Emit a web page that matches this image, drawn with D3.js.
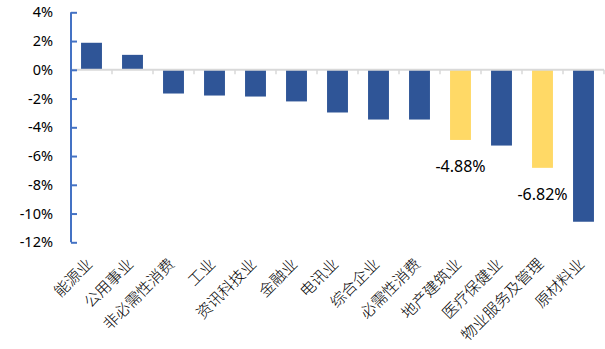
<!DOCTYPE html>
<html>
<head>
<meta charset="utf-8">
<script src="https://cdn.jsdelivr.net/npm/d3@7"></script>
<style>
  html, body { margin: 0; padding: 0; background: #fff; }
  svg text { font-family: "Noto Sans", "Noto Sans CJK SC", sans-serif; fill: #000; }
</style>
</head>
<body>
<svg id="chart" width="605" height="349"></svg>
<script>
// Sector returns (%)
const categories = ["能源业", "公用事业", "非必需性消费", "工业", "资讯科技业", "金融业", "电讯业",
                    "综合企业", "必需性消费", "地产建筑业", "医疗保健业", "物业服务及管理", "原材料业"];
const values = [1.88, 1.04, -1.65, -1.79, -1.86, -2.2, -2.97, -3.46, -3.46, -4.88, -5.27, -6.82, -10.57];
// Sectors highlighted in yellow and labelled with their value
const highlighted = ["地产建筑业", "物业服务及管理"];
const yTicks = [4, 2, 0, -2, -4, -6, -8, -10, -12];

const svg = d3.select("#chart");
const plotLeft = 71, plotRight = 604, plotTop = 12.3, plotBottom = 242.3;

const x = d3.scaleBand().domain(categories).range([plotLeft, plotRight]).paddingInner(0.49).paddingOuter(0.245);
const y = d3.scaleLinear().domain([-12, 4]).range([plotBottom, plotTop]);

// Bars
svg.append("g").selectAll("rect")
  .data(categories.map((c, i) => ({ c, v: values[i] })))
  .join("rect")
  .attr("x", d => x(d.c))
  .attr("width", x.bandwidth())
  .attr("y", d => Math.min(y(d.v), y(0)))
  .attr("height", d => Math.abs(y(d.v) - y(0)))
  .attr("fill", d => highlighted.includes(d.c) ? "#FFD966" : "#2F5597");

// Category axis along zero, with ticks between bands
const step = x.step();
const xAxis = svg.append("g");
xAxis.append("line")
  .attr("x1", plotLeft).attr("x2", plotRight)
  .attr("y1", y(0)).attr("y2", y(0))
  .attr("stroke", "#D9D9D9").attr("stroke-width", 2);
xAxis.selectAll("line.tick")
  .data(d3.range(1, categories.length + 1))
  .join("line").attr("class", "tick")
  .attr("x1", i => plotLeft + i * step).attr("x2", i => plotLeft + i * step)
  .attr("y1", y(0)).attr("y2", y(0) + 4.5)
  .attr("stroke", "#D9D9D9").attr("stroke-width", 1.5);

// Value axis
const yAxisG = svg.append("g").attr("transform", `translate(${plotLeft},0)`)
  .call(d3.axisRight(y).tickValues(yTicks).tickSize(6).tickFormat(d => d + "%"));
yAxisG.select(".domain").attr("stroke", "#4472C4").attr("stroke-width", 2)
  .attr("d", `M0,${plotTop}V${plotBottom}`);
yAxisG.selectAll(".tick line").attr("stroke", "#4472C4").attr("stroke-width", 2);
yAxisG.selectAll(".tick text")
  .attr("x", -18).attr("text-anchor", "end")
  .attr("font-size", 14.5).attr("fill", "#000");

// Category labels, rotated
svg.append("g").selectAll("text")
  .data(categories)
  .join("text")
  .attr("transform", d => `translate(${x(d) + x.bandwidth() / 2 + 2},265) rotate(-45)`)
  .attr("text-anchor", "end")
  .attr("font-size", 15.5)
  .attr("font-weight", 300)
  .text(d => d);

// Value labels for highlighted sectors
svg.append("g").selectAll("text")
  .data(categories.map((c, i) => ({ c, v: values[i] })).filter(d => highlighted.includes(d.c)))
  .join("text")
  .attr("x", d => x(d.c) + x.bandwidth() / 2)
  .attr("y", d => y(d.v) + 32)
  .attr("text-anchor", "middle")
  .attr("font-size", 16)
  .text(d => d.v.toFixed(2) + "%");
</script>
</body>
</html>
